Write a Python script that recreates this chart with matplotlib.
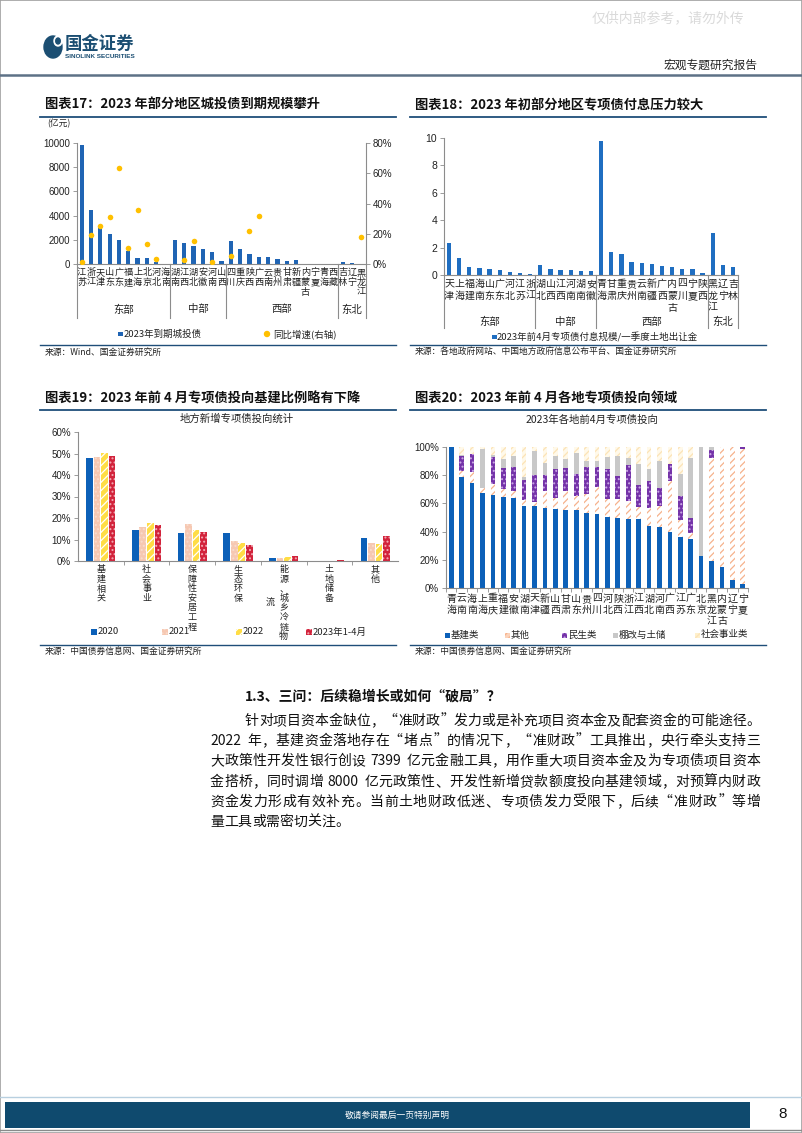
import re
import numpy as np
import matplotlib
matplotlib.use('Agg')
import matplotlib.pyplot as plt
from matplotlib.patches import Rectangle, Ellipse
from matplotlib.lines import Line2D
from matplotlib.ticker import FuncFormatter
from matplotlib.font_manager import FontProperties

plt.rcParams['font.family'] = ['Liberation Sans', 'Noto Sans CJK SC', 'DejaVu Sans']
plt.rcParams['hatch.linewidth'] = 0.9
CJK = ['Noto Sans CJK SC', 'DejaVu Sans']

# ---------------- data ----------------
# Chart 17
c17_groups = ['东部', '中部', '西部', '东北']
c17_group_sizes = [10, 6, 12, 3]
c17_regions = ['江苏', '浙江', '天津', '山东', '广东', '福建', '上海', '北京', '河北', '海南',
               '湖南', '江西', '湖北', '安徽', '河南', '山西',
               '四川', '重庆', '陕西', '广西', '云南', '贵州', '甘肃', '新疆', '内蒙古', '宁夏', '青海', '西藏',
               '吉林', '辽宁', '黑龙江']
c17_due = [9850, 4450, 2950, 2500, 2000, 1100, 500, 480, 200, 30,
           2000, 1720, 1480, 1200, 970, 220,
           1880, 1220, 850, 600, 560, 380, 220, 300, 20, 40, 30, 10,
           170, 70, 25]
c17_yoy = [1.0, 19.0, 25.0, 31.0, 63.5, 10.5, 36.0, 13.5, 3.0, None,
           None, 2.5, 15.0, None, 1.0, None,
           5.0, None, 21.8, 31.7, None, None, None, None, None, None, None, None,
           None, None, 18.0]

# Chart 18
c18_groups = ['东部', '中部', '西部', '东北']
c18_group_sizes = [9, 6, 11, 3]
c18_regions = ['天津', '上海', '福建', '海南', '山东', '广东', '河北', '江苏', '浙江',
               '湖北', '山西', '江西', '河南', '湖南', '安徽',
               '青海', '甘肃', '重庆', '贵州', '云南', '新疆', '广西', '内蒙古', '四川', '宁夏', '陕西',
               '黑龙江', '辽宁', '吉林']
c18_ratio = [2.35, 1.25, 0.55, 0.5, 0.45, 0.35, 0.25, 0.15, 0.05,
             0.7, 0.45, 0.4, 0.33, 0.28, 0.27,
             9.8, 1.65, 1.5, 0.95, 0.85, 0.78, 0.68, 0.55, 0.45, 0.42, 0.15,
             3.1, 0.75, 0.6]

# Chart 19
c19_categories = ['基建相关', '社会事业', '保障性安居工程', '生态环保', '能源、城乡冷链物流', '土地储备', '其他']
c19_series = ['2020', '2021', '2022', '2023年1-4月']
c19_2020 = [47.8, 14.2, 12.8, 12.9, 1.2, 0.0, 10.6]
c19_2021 = [48.6, 15.9, 17.1, 9.5, 1.2, 0.0, 8.3]
c19_2022 = [50.2, 17.7, 14.6, 8.4, 1.7, 0.0, 7.8]
c19_2023 = [48.8, 16.7, 13.4, 7.5, 2.5, 0.3, 11.7]

# Chart 20
c20_regions = ['青海', '云南', '海南', '上海', '重庆', '福建', '安徽', '湖南', '天津', '新疆', '山西', '甘肃',
               '山东', '贵州', '四川', '河北', '陕西', '浙江', '江西', '湖北', '河南', '广西', '江苏', '广东',
               '北京', '黑龙江', '内蒙古', '辽宁', '宁夏']
c20_series = ['基建类', '其他', '民生类', '棚改与土储', '社会事业类']
c20_infra = [100, 78.5, 74.5, 67.5, 66, 64.5, 63.5, 58, 58, 57, 56, 55.5,
             55.5, 53.5, 52.5, 50.5, 50, 49, 49, 44, 43.5, 40, 36, 34.5,
             22.5, 19.5, 15, 6, 2.5]
c20_other = [0, 4.5, 7.5, 3.5, 7.5, 6, 5.5, 4.5, 3, 11.5, 7.5, 13.5,
             9.5, 13.5, 19, 12.5, 13, 13, 8.5, 12.5, 14.5, 36, 12.5, 4.5,
             0, 73, 85, 94, 96]
c20_livelihood = [0, 10.5, 13, 0, 19.5, 14.5, 16.5, 14, 19, 11.5, 21, 16,
                  15.5, 18.5, 14, 21.5, 16.5, 25, 15.5, 19.5, 13, 12, 16.5, 10.5,
                  0, 5.5, 0, 0, 1.5]
c20_shanty = [0, 0.5, 0, 27.5, 1, 6.5, 8, 2.5, 17, 9, 9, 6.5,
              15.5, 4.5, 4.5, 8.5, 14, 5.5, 15, 8.5, 19, 0, 15.5, 43,
              77.5, 2, 0, 0, 0]
c20_social = [0, 6, 5, 1.5, 6, 8.5, 6.5, 21, 3, 11, 6.5, 8.5,
              4, 10, 10, 7, 6.5, 7.5, 12, 15.5, 10, 12, 19.5, 7.5,
              0, 0, 0, 0, 0]

# ---------------- figure helpers ----------------
W, H = 802, 1133
fig = plt.figure(figsize=(W / 100, H / 100), dpi=100)
fig.patch.set_facecolor('white')


def fx(x):
    return x / W


def fy(y):
    return 1 - y / H


def add_ax(x0, y0, x1, y1):
    return fig.add_axes([fx(x0), fy(y1), (x1 - x0) / W, (y1 - y0) / H])


def ftext(x, y, s, **kw):
    kw.setdefault('family', CJK)
    kw.setdefault('va', 'center')
    return fig.text(fx(x), fy(y), s, **kw)


def hline(x0, x1, y, color='#1F4E79', lw=1.0):
    fig.add_artist(Line2D([fx(x0), fx(x1)], [fy(y), fy(y)], color=color, lw=lw,
                          transform=fig.transFigure))


def swatch(x, y, size, **kw):
    kw.setdefault('lw', 0)
    fig.add_artist(Rectangle((fx(x), fy(y + size / 2)), size / W, size / H,
                             transform=fig.transFigure, **kw))


def vert(s):
    return '\n'.join(s)


AX_C = '#8C8C8C'
TXT_C = '#222222'
NAVY = '#1F4E79'


def style_axes(ax):
    for s in ['top', 'right']:
        ax.spines[s].set_visible(False)
    for s in ['left', 'bottom']:
        ax.spines[s].set_color(AX_C)
        ax.spines[s].set_linewidth(0.8)
    ax.tick_params(axis='y', length=3, width=0.6, color=AX_C, labelsize=7, pad=2, labelcolor=TXT_C)
    ax.tick_params(axis='x', length=0, labelsize=7, labelcolor=TXT_C)
    ax.set_facecolor('none')


pct = FuncFormatter(lambda v, p: f'{v * 100:.0f}%')

# ---------------- page header ----------------
fig.add_artist(Rectangle((0, 0), 1, 1, transform=fig.transFigure, fill=False, edgecolor='#A0A0A0', lw=1.2))
ftext(668, 18, '仅供内部参考，请勿外传', ha='center', fontsize=10, color='#DADADA')
fig.add_artist(Ellipse((fx(53), fy(47)), 18 / W, 22 / H, transform=fig.transFigure, color='#1B4E72'))
fig.add_artist(Ellipse((fx(58), fy(41)), 8 / W, 10 / H, transform=fig.transFigure, color='white'))
fig.add_artist(Ellipse((fx(58), fy(41)), 4.5 / W, 6 / H, transform=fig.transFigure, color='#1B4E72'))
ftext(65, 44, '国金证券', fontsize=12.5, fontweight='bold', color='#1B4E72')
ftext(65, 57, 'SINOLINK SECURITIES', fontsize=4.6, fontweight='bold', color='#1B4E72',
      family=['Liberation Sans', 'DejaVu Sans'])
ftext(757, 65, '宏观专题研究报告', ha='right', fontsize=8.5, color=TXT_C)
hline(0, 802, 75, color='#5D7186', lw=1.8)

# section titles
ftext(45, 105, '图表17：2023 年部分地区城投债到期规模攀升', fontsize=9.5, fontweight='bold', color='#111111')
ftext(415, 105, '图表18：2023 年初部分地区专项债付息压力较大', fontsize=9.5, fontweight='bold', color='#111111')
hline(40, 396, 117, NAVY, 1.3)
hline(410, 766, 117, NAVY, 1.3)
hline(40, 396, 345, NAVY, 1.0)
hline(410, 766, 345, NAVY, 1.0)
ftext(45, 352, '来源：Wind、国金证券研究所', fontsize=6.3, color=TXT_C)
ftext(415, 352, '来源：各地政府网站、中国地方政府信息公布平台、国金证券研究所', fontsize=6.3, color=TXT_C)

ftext(45, 398, '图表19：2023 年前 4 月专项债投向基建比例略有下降', fontsize=9.5, fontweight='bold', color='#111111')
ftext(415, 398, '图表20：2023 年前 4 月各地专项债投向领域', fontsize=9.5, fontweight='bold', color='#111111')
hline(40, 396, 410, NAVY, 1.3)
hline(410, 766, 410, NAVY, 1.3)
hline(40, 396, 645, NAVY, 1.0)
hline(410, 766, 645, NAVY, 1.0)
ftext(45, 652, '来源：中国债券信息网、国金证券研究所', fontsize=6.3, color=TXT_C)
ftext(415, 652, '来源：中国债券信息网、国金证券研究所', fontsize=6.3, color=TXT_C)


def group_decor(ax, sizes, names, sep_depth, label_y, fontsize=7.5):
    bounds = np.concatenate([[0], np.cumsum(sizes)]) - 0.5
    tr = ax.get_xaxis_transform()
    for b in bounds:
        ax.plot([b, b], [0, -sep_depth], transform=tr, color=AX_C, lw=0.8, clip_on=False)
    for i, nm in enumerate(names):
        cx = (bounds[i] + bounds[i + 1]) / 2
        ax.text(cx, -label_y, nm, transform=tr, ha='center', va='center', fontsize=fontsize,
                family=CJK, color=TXT_C)


# ---------------- chart 17 ----------------
ax17 = add_ax(77, 143, 366, 264)
x17 = np.arange(len(c17_regions))
ax17.bar(x17, c17_due, width=0.45, color='#1F64B4', zorder=2)
ax17.set_xlim(-0.5, len(c17_regions) - 0.5)
ax17.set_ylim(0, 10000)
ax17.set_yticks(range(0, 10001, 2000))
style_axes(ax17)
ax17.set_xticks(x17)
ax17.set_xticklabels([vert(r) for r in c17_regions], family=CJK, fontsize=6.6, linespacing=1.12, va='top')
ax17.tick_params(axis='x', pad=3)
group_decor(ax17, c17_group_sizes, c17_groups, 0.45, 0.375)
ax17r = ax17.twinx()
yoy = np.array([np.nan if v is None else v for v in c17_yoy]) / 100
ax17r.scatter(x17, yoy, s=16, color='#FFC000', zorder=3, linewidths=0)
ax17r.set_ylim(0, 0.8)
ax17r.set_yticks(np.arange(0, 0.81, 0.2))
ax17r.yaxis.set_major_formatter(pct)
for s in ['top', 'left', 'bottom']:
    ax17r.spines[s].set_visible(False)
ax17r.spines['right'].set_color(AX_C)
ax17r.spines['right'].set_linewidth(0.8)
ax17r.tick_params(axis='y', length=3, width=0.6, color=AX_C, labelsize=7, pad=2, labelcolor=TXT_C)
ftext(47, 124, '(亿元)', fontsize=6.3, color=TXT_C)
swatch(118, 334, 4.5, facecolor='#1F64B4')
ftext(124, 334, '2023年到期城投债', fontsize=6.8, color=TXT_C)
fig.add_artist(Ellipse((fx(267), fy(334)), 5 / W, 5 / H, transform=fig.transFigure, color='#FFC000'))
ftext(273, 334, '同比增速(右轴)', fontsize=6.8, color=TXT_C)

# ---------------- chart 18 ----------------
ax18 = add_ax(444, 138, 738, 275)
x18 = np.arange(len(c18_regions))
ax18.bar(x18, c18_ratio, width=0.42, color='#1F6EC1', zorder=2)
ax18.set_xlim(-0.5, len(c18_regions) - 0.5)
ax18.set_ylim(0, 10)
ax18.set_yticks(range(0, 11, 2))
style_axes(ax18)
ax18.tick_params(axis='y', labelsize=7.5)
ax18.set_xticks(x18)
ax18.set_xticklabels([vert(r) for r in c18_regions], family=CJK, fontsize=7.2, linespacing=1.22, va='top')
ax18.tick_params(axis='x', pad=3)
group_decor(ax18, c18_group_sizes, c18_groups, 0.39, 0.345)
swatch(492, 337, 4.5, facecolor='#1F6EC1')
ftext(497, 337, '2023年前4月专项债付息规模/一季度土地出让金', fontsize=6.8, color=TXT_C)

# ---------------- chart 19 ----------------
ax19 = add_ax(78, 432, 398, 561)
x19 = np.arange(len(c19_categories))
styles19 = [dict(color='#0C60B8'),
            dict(facecolor='#F6C8B2', edgecolor='#F9DCCD', hatch='....', lw=0),
            dict(facecolor='#FFDD45', edgecolor='white', hatch='////', lw=0),
            dict(facecolor='#D2233B', edgecolor='#F3A9B4', hatch='....', lw=0)]
vals19 = [c19_2020, c19_2021, c19_2022, c19_2023]
step = 0.165
for k, (vals, st) in enumerate(zip(vals19, styles19)):
    ax19.bar(x19 + (k - 1.5) * step, np.array(vals) / 100, width=0.145, zorder=2, **st)
ax19.set_xlim(-0.5, len(c19_categories) - 0.5)
ax19.set_ylim(0, 0.6)
ax19.set_yticks(np.arange(0, 0.61, 0.1))
ax19.yaxis.set_major_formatter(pct)
style_axes(ax19)
ax19.set_xticks(x19)
ax19.set_xticklabels([vert(c[:8]) for c in c19_categories], family=CJK, fontsize=6.5,
                     linespacing=1.08, va='top')
ax19.tick_params(axis='x', pad=3)
ax19.set_xticks(np.arange(0.5, len(c19_categories) - 1), minor=True)
ax19.tick_params(axis='x', which='minor', length=3, width=0.6, color=AX_C)
for i, c in enumerate(c19_categories):
    if len(c) > 8:
        ax19.text(i - 0.3, -0.33, vert(c[8:]), transform=ax19.get_xaxis_transform(),
                  ha='center', va='center', fontsize=6.5, family=CJK, color=TXT_C)
ftext(237, 419, '地方新增专项债投向统计', ha='center', fontsize=7.5, color=TXT_C)
leg19_x = [91, 162, 236, 306]
for xx, nm, st in zip(leg19_x, c19_series, styles19):
    st2 = dict(st)
    if 'color' in st2:
        st2 = dict(facecolor=st2['color'])
    swatch(xx, 632, 5.5, **st2)
    ftext(xx + 7, 632, nm, fontsize=6.8, color=TXT_C)

# ---------------- chart 20 ----------------
ax20 = add_ax(446, 447, 748, 588)
x20 = np.arange(len(c20_regions))
styles20 = [dict(color='#0C60B8'),
            dict(facecolor='white', edgecolor='#F6B28C', hatch='/////', lw=0),
            dict(facecolor='#7433A8', edgecolor='#CDAAE8', hatch='....', lw=0),
            dict(color='#C8C8C8'),
            dict(facecolor='#FFF9EA', edgecolor='#FCE3B6', hatch='/////', lw=0)]
vals20 = [c20_infra, c20_other, c20_livelihood, c20_shanty, c20_social]
bottom = np.zeros(len(c20_regions))
for vals, st in zip(vals20, styles20):
    v = np.array(vals, dtype=float) / 100
    ax20.bar(x20, v, width=0.45, bottom=bottom, zorder=2, **st)
    bottom += v
ax20.set_xlim(-0.5, len(c20_regions) - 0.5)
ax20.set_ylim(0, 1.0)
ax20.set_yticks(np.arange(0, 1.01, 0.2))
ax20.yaxis.set_major_formatter(pct)
style_axes(ax20)
ax20.set_xticks(x20)
ax20.set_xticklabels([vert(r) for r in c20_regions], family=CJK, fontsize=7.2, linespacing=1.18, va='top')
ax20.tick_params(axis='x', pad=4)
ax20.set_xticks(np.arange(-0.5, len(c20_regions)), minor=True)
ax20.tick_params(axis='x', which='minor', length=3, width=0.6, color=AX_C)
ftext(592, 420, '2023年各地前4月专项债投向', ha='center', fontsize=7.5, color=TXT_C)
leg20_x = [445, 505, 562, 613, 695]
for xx, nm, st in zip(leg20_x, c20_series, styles20):
    st2 = dict(st)
    if 'color' in st2:
        st2 = dict(facecolor=st2['color'])
    if st2.get('facecolor') == 'white':
        st2['facecolor'] = '#FBD3BB'
    elif st2.get('facecolor') == '#FFF9EA':
        st2['facecolor'] = '#FFF0CC'
    swatch(xx, 635, 5, **st2)
    ftext(xx + 6, 635, nm, fontsize=6.8, color=TXT_C)

# ---------------- body text ----------------
ftext(245, 697, '1.3、三问：后续稳增长或如何“破局”？', fontsize=10, fontweight='bold', color='#111111')

para = [
    (245, 760, '针对项目资本金缺位，“准财政”发力或是补充项目资本金及配套资金的可能途径。'),
    (210, 760, '2022 年，基建资金落地存在“堵点”的情况下，“准财政”工具推出，央行牵头支持三'),
    (210, 760, '大政策性开发性银行创设 7399 亿元金融工具，用作重大项目资本金及为专项债项目资本'),
    (210, 760, '金搭桥，同时调增 8000 亿元政策性、开发性新增贷款额度投向基建领域，对预算内财政'),
    (210, 760, '资金发力形成有效补充。当前土地财政低迷、专项债发力受限下，后续“准财政”等增'),
    (210, None, '量工具或需密切关注。'),
]
para_y = [721, 741, 761, 782, 802, 822]
FS = 10.0
fp = FontProperties(family=CJK, size=FS)
em = FS * 100 / 72
renderer = fig.canvas.get_renderer()


def tok_width(t):
    if t == ' ':
        return 0.3 * em
    if re.match(r'[A-Za-z0-9.]+$', t):
        return renderer.get_text_width_height_descent(t, fp, ismath=False)[0] + 1
    return em


for (x0, x1, s), yy in zip(para, para_y):
    toks = re.findall(r'[A-Za-z0-9.]+| |.', s)
    widths = [tok_width(t) for t in toks]
    extra = 0.0 if x1 is None else (x1 - x0 - sum(widths)) / (len(toks) - 1)
    xx = x0
    for t, w in zip(toks, widths):
        if t != ' ':
            if t == '“':
                fig.text(fx(xx + w - 1), fy(yy), t, fontproperties=fp, color='#111111', va='center', ha='right')
            elif t == '”':
                fig.text(fx(xx + 1), fy(yy), t, fontproperties=fp, color='#111111', va='center', ha='left')
            else:
                fig.text(fx(xx), fy(yy), t, fontproperties=fp, color='#111111', va='center', ha='left')
        xx += w + extra

# ---------------- footer ----------------
hline(0, 802, 1097, color='#B8D0E0', lw=1.0)
fig.add_artist(Rectangle((fx(5), fy(1128)), 745 / W, 26 / H, transform=fig.transFigure,
                         color='#0F4A6E', lw=0))
ftext(397, 1115, '敬请参阅最后一页特别声明', ha='center', fontsize=6.3, color='white')
ftext(783, 1114, '8', ha='center', fontsize=11, color='#111111', family=['Liberation Sans'])
hline(0, 802, 1130, color='#8A8A8A', lw=1.0)

fig.savefig('out.png', dpi=100)
